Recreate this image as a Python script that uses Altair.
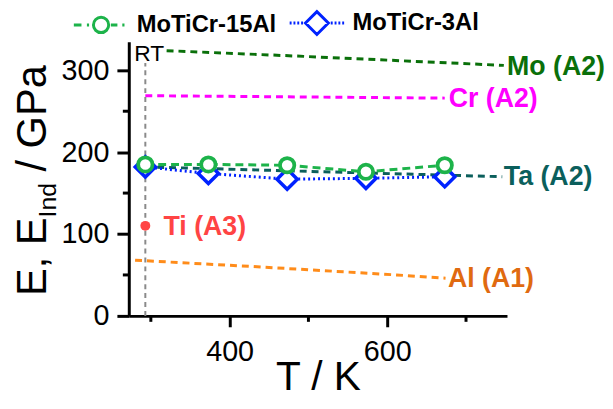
import altair as alt
import pandas as pd

FONT = "Liberation Sans"

# measured series (T in K, E in GPa)
temps = [293, 373, 473, 573, 673]
e_15al = [185, 185, 184, 176, 184]
e_3al = [182, 174, 167, 168, 170]
series_names = ["MoTiCr-15Al", "MoTiCr-3Al"]
series_colors = ["#1db34a", "#0022ff"]

# reference elements
mo_T = [320, 494, 748]
mo_E = [324, 317, 306]
cr_T = [293, 673]
cr_E = [269, 266]
ta_T = [293, 520, 746]
ta_E = [182, 176, 170]
al_T = [280, 435, 612, 674]
al_E = [68, 60, 50, 46]
ti_T = [293]
ti_E = [110]
rt_T = [293]
rt_E = [309]

label_names = ["Mo (A2)", "Cr (A2)", "Ta (A2)", "Ti (A3)", "Al (A1)"]
label_T = [752, 678, 748, 316, 677]
label_E = [304, 265, 170, 109, 44.5]
label_colors = ["#0a700a", "#ff00ff", "#0b5f5c", "#ff4444", "#e06a10"]

ref_lines = [
    (mo_T, mo_E, "#0a700a"),
    (cr_T, cr_E, "#ff00ff"),
    (ta_T, ta_E, "#0b5f5c"),
    (al_T, al_E, "#ff8c1a"),
]

x_major = [400, 600]
x_minor = [300, 500, 700]
y_major = [0, 100, 200, 300]
y_minor = [50, 150, 250]

xscale = alt.Scale(domain=[272, 752], nice=False, zero=False)
yscale = alt.Scale(domain=[0, 335], nice=False, zero=False)
xaxis = alt.Axis(values=x_major, title="T / K", grid=False, tickSize=11, tickWidth=3,
                 domainWidth=3, domainColor="black", tickColor="black",
                 labelFontSize=29, labelFont=FONT, labelColor="black", labelPadding=11,
                 titleFontSize=41, titleFont=FONT, titleFontWeight="normal",
                 titleColor="black", titlePadding=-9)
yaxis = alt.Axis(values=y_major, title=None, grid=False, tickSize=12, tickWidth=3,
                 domainWidth=3, domainColor="black", tickColor="black",
                 labelFontSize=29, labelFont=FONT, labelColor="black", labelPadding=8)


def X(f="T"):
    return alt.X(f"{f}:Q", scale=xscale, axis=xaxis)


def Y(f="E"):
    return alt.Y(f"{f}:Q", scale=yscale, axis=yaxis)


layers = []

# reference dashed lines
for T, E, c in ref_lines:
    df = pd.DataFrame({"T": T, "E": E})
    layers.append(alt.Chart(df).mark_line(color=c, strokeWidth=3, strokeDash=[7, 5])
                  .encode(x=X(), y=Y()))

# RT vertical line
rt_df = pd.DataFrame({"T": rt_T, "E": [0], "E2": rt_E})
layers.append(alt.Chart(rt_df).mark_rule(color="#8a8a8a", strokeWidth=2, strokeDash=[5, 4])
              .encode(x=X(), y=Y(), y2="E2:Q"))
layers.append(alt.Chart(rt_df).mark_text(text="RT", font=FONT, fontSize=23, color="black",
                                         align="center", baseline="alphabetic", dx=4)
              .encode(x=X(), y=alt.value(19.5)))

# minor ticks
layers.append(alt.Chart(pd.DataFrame({"T": x_minor})).mark_rule(color="black", strokeWidth=3)
              .encode(x=X(), y=alt.value(277), y2=alt.value(283)))
layers.append(alt.Chart(pd.DataFrame({"E": y_minor})).mark_rule(color="black", strokeWidth=3)
              .encode(y=Y(), x=alt.value(-6), x2=alt.value(0)))

# series
s3 = pd.DataFrame({"T": temps, "E": e_3al})
s15 = pd.DataFrame({"T": temps, "E": e_15al})
layers.append(alt.Chart(s3).mark_line(color=series_colors[1], strokeWidth=3, strokeDash=[2, 3])
              .encode(x=X(), y=Y()))
layers.append(alt.Chart(s3).mark_point(shape="diamond", size=420, filled=False, fill="white",
                                       fillOpacity=1, color=series_colors[1], strokeWidth=3.5, opacity=1)
              .encode(x=X(), y=Y()))
layers.append(alt.Chart(s15).mark_line(color=series_colors[0], strokeWidth=3, strokeDash=[8, 5])
              .encode(x=X(), y=Y()))
layers.append(alt.Chart(s15).mark_point(shape="circle", size=210, filled=False, fill="white",
                                        fillOpacity=1, color=series_colors[0], strokeWidth=3.8, opacity=1)
              .encode(x=X(), y=Y()))

# Ti point
layers.append(alt.Chart(pd.DataFrame({"T": ti_T, "E": ti_E})).mark_circle(color="#ff4444", size=100, opacity=1)
              .encode(x=X(), y=Y()))

# labels
for name, T, E, c in zip(label_names, label_T, label_E, label_colors):
    layers.append(alt.Chart(pd.DataFrame({"T": [T], "E": [E], "name": [name]}))
                  .mark_text(align="left", baseline="middle", fontSize=27, fontWeight="bold",
                             font=FONT, color=c)
                  .encode(x=X(), y=Y(), text="name:N"))

# legend carrier (no visible marks)
path15 = ("M-1,0H-0.72M-0.52,0H-0.44M0.36,0H0.6M0.78,0H0.86"
          "M-0.28,0A0.28,0.28,0,1,1,0.28,0A0.28,0.28,0,1,1,-0.28,0Z")
path3 = ("M-1,0H-0.93M-0.86,0H-0.79M-0.72,0H-0.65M-0.58,0H-0.51"
         "M0.51,0H0.58M0.65,0H0.72M0.79,0H0.86M0.93,0H1"
         "M-0.42,0L0,-0.42L0.42,0L0,0.42Z")
leg = alt.Legend(orient="none", direction="horizontal", legendX=-57, legendY=-48, title=None,
                 labelFontSize=24, labelFontWeight="bold", labelFont=FONT, labelColor="black",
                 symbolSize=3025, symbolStrokeWidth=3, labelOffset=7, columnPadding=7,
                 padding=0, labelLimit=300)
leg_df = pd.DataFrame({"series": series_names, "T": temps[:2], "E": e_15al[:2]})
layers.append(alt.Chart(leg_df).transform_filter("false")
              .mark_point(filled=False, strokeWidth=3, opacity=1)
              .encode(x=X(), y=Y(),
                      color=alt.Color("series:N", scale=alt.Scale(domain=series_names, range=series_colors), legend=leg),
                      shape=alt.Shape("series:N", scale=alt.Scale(domain=series_names, range=[path15, path3]), legend=leg)))

# y title with subscript
layers.append(alt.Chart(alt.Data(values=[{}])).mark_text(text="E, E", font=FONT, fontSize=42, angle=270,
                                                           align="left", baseline="alphabetic", color="black")
              .encode(x=alt.value(-83.3), y=alt.value(257)))
layers.append(alt.Chart(alt.Data(values=[{}])).mark_text(text="Ind", font=FONT, fontSize=25, angle=270,
                                                           align="left", baseline="alphabetic", color="black")
              .encode(x=alt.value(-73.3), y=alt.value(177.6)))
layers.append(alt.Chart(alt.Data(values=[{}])).mark_text(text="/ GPa", font=FONT, fontSize=42, angle=270,
                                                           align="left", baseline="alphabetic", color="black")
              .encode(x=alt.value(-83.3), y=alt.value(131.2)))

chart = (alt.layer(*layers)
         .properties(width=382, height=277,
                     padding={"left": 122, "top": 32, "right": 99, "bottom": 84},
                     autosize=alt.AutoSizeParams(type="none"))
         .configure_view(stroke=None)
         .configure_axis(domainWidth=3, tickWidth=3, domainColor="black", tickColor="black")
         .resolve_scale(color="independent", shape="independent"))

chart.save("out.html", embed_options={"renderer": "svg", "actions": False})
